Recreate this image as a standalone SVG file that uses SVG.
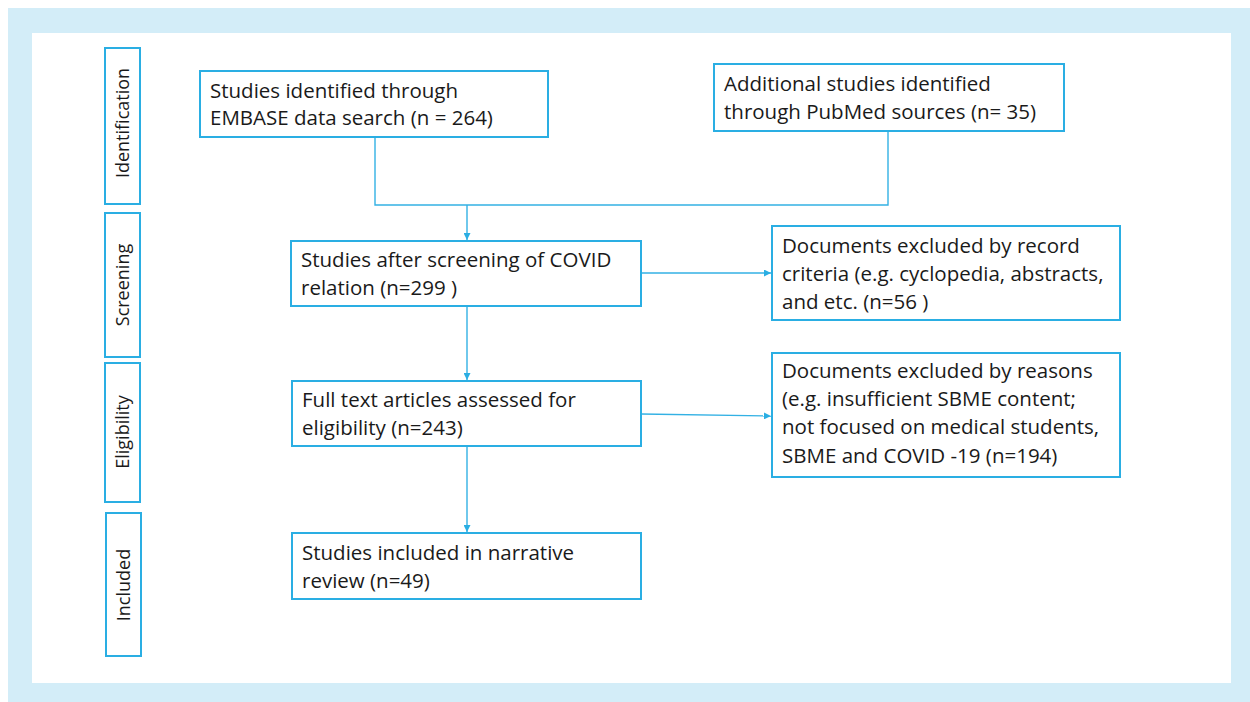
<svg xmlns="http://www.w3.org/2000/svg" width="1250" height="702" viewBox="0 0 1250 702">
<style>
.box{fill:#fff;stroke:#2aaee3;stroke-width:2}
.t{font-family:"Open Sans","Liberation Sans",sans-serif;font-size:20.5px;fill:#1a1a1a}
.p{font-family:"Open Sans","Liberation Sans",sans-serif;font-size:18px;fill:#1a1a1a;text-anchor:middle}
.c{fill:none;stroke:#33b1e4;stroke-width:1.4}
</style>
<defs>
<marker id="ah" viewBox="0 0 10 10" refX="10" refY="5" markerWidth="7" markerHeight="7" markerUnits="userSpaceOnUse" orient="auto">
<path d="M0,0 L10,5 L0,10 z" fill="#2aaee3"/>
</marker>
</defs>
<rect x="0" y="0" width="1250" height="702" fill="#fff"/>
<rect x="8" y="8" width="1242" height="694" fill="#d3edf8"/>
<rect x="32" y="33" width="1199" height="650" fill="#fff"/>

<g id="phase-identification"><rect class="box" x="105" y="48" width="35" height="156"/><text class="p" transform="translate(129,123) rotate(-90)">Identification</text></g>
<g id="phase-screening"><rect class="box" x="105" y="213" width="35" height="144"/><text class="p" transform="translate(129,285) rotate(-90)">Screening</text></g>
<g id="phase-eligibility"><rect class="box" x="105" y="363" width="35" height="139"/><text class="p" transform="translate(129,432) rotate(-90)">Eligibility</text></g>
<g id="phase-included"><rect class="box" x="106" y="513" width="35" height="143"/><text class="p" transform="translate(130,585) rotate(-90)">Included</text></g>

<g id="connectors">
<polyline class="c" points="375,137 375,205 888,205 888,131"/>
<line class="c" x1="467" y1="205" x2="467" y2="240" marker-end="url(#ah)"/>
<line class="c" x1="641" y1="273" x2="771" y2="273" marker-end="url(#ah)"/>
<line class="c" x1="467" y1="306" x2="467" y2="380" marker-end="url(#ah)"/>
<line class="c" x1="641" y1="414" x2="771" y2="416" marker-end="url(#ah)"/>
<line class="c" x1="467" y1="446" x2="467" y2="532" marker-end="url(#ah)"/>
</g>

<g id="n-embase"><rect class="box" x="200" y="71" width="348" height="66"/><text class="t" x="210" y="98">Studies identified through</text><text class="t" x="210" y="125">EMBASE data search (n = 264)</text></g>
<g id="n-pubmed"><rect class="box" x="714" y="64" width="350" height="67"/><text class="t" x="724" y="91">Additional studies identified</text><text class="t" x="724" y="119">through PubMed sources (n= 35)</text></g>
<g id="n-screening"><rect class="box" x="291" y="241" width="350" height="65"/><text class="t" x="301" y="267">Studies after screening of COVID</text><text class="t" x="301" y="295">relation (n=299 )</text></g>
<g id="n-excluded1"><rect class="box" x="772" y="226" width="348" height="94"/><text class="t" x="782" y="253">Documents excluded by record</text><text class="t" x="782" y="281">criteria (e.g. cyclopedia, abstracts,</text><text class="t" x="782" y="309">and etc. (n=56 )</text></g>
<g id="n-eligibility"><rect class="box" x="292" y="381" width="349" height="65"/><text class="t" x="302" y="407">Full text articles assessed for</text><text class="t" x="302" y="435">eligibility (n=243)</text></g>
<g id="n-excluded2"><rect class="box" x="772" y="353" width="348" height="124"/><text class="t" x="782" y="378">Documents excluded by reasons</text><text class="t" x="782" y="406">(e.g. insufficient SBME content;</text><text class="t" x="782" y="434">not focused on medical students,</text><text class="t" x="782" y="463">SBME and COVID -19 (n=194)</text></g>
<g id="n-included"><rect class="box" x="292" y="533" width="349" height="66"/><text class="t" x="302" y="560">Studies included in narrative</text><text class="t" x="302" y="588">review (n=49)</text></g>
</svg>
